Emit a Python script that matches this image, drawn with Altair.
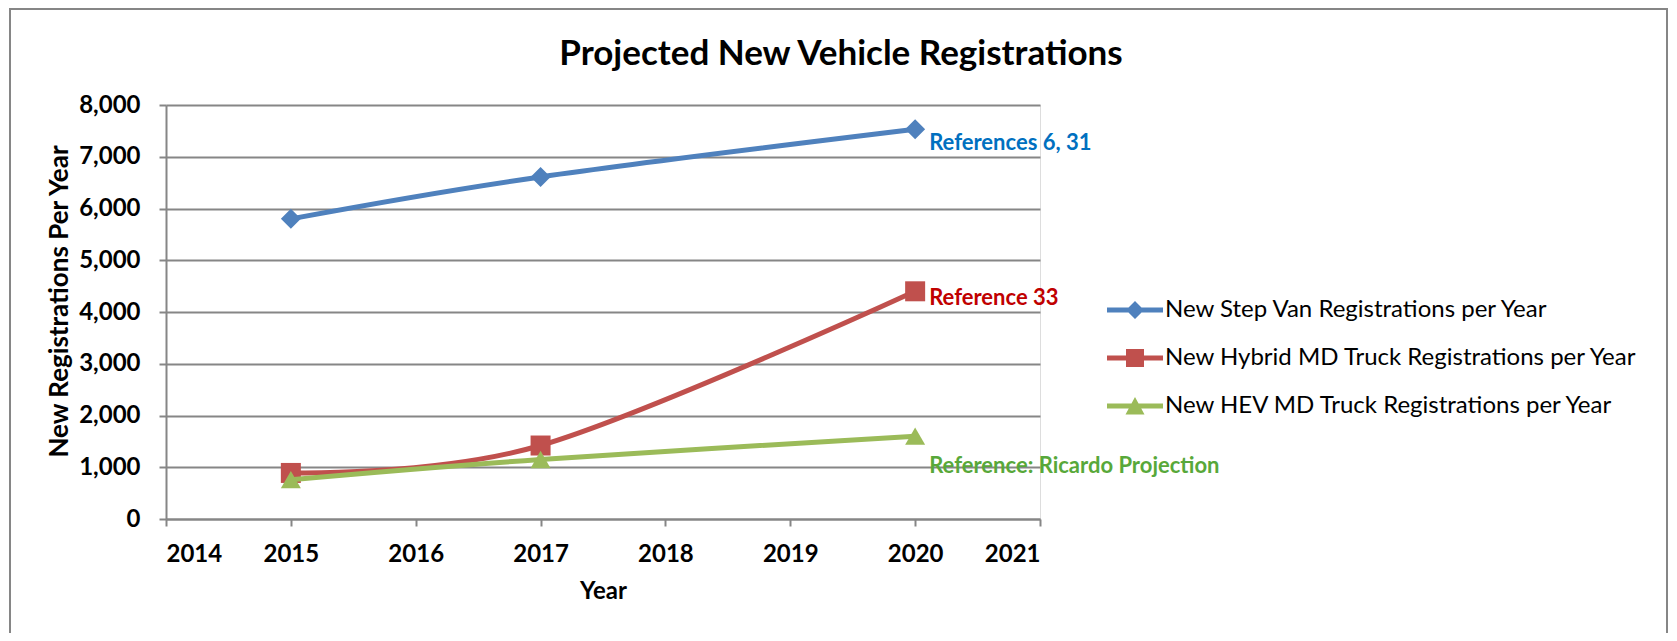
import altair as alt
import pandas as pd

# ---- data ----
years = [2015, 2017, 2020]
series_names = [
    "New Step Van Registrations per Year",
    "New Hybrid MD Truck Registrations per Year",
    "New HEV MD Truck Registrations per Year",
]
step_van = [5800, 6610, 7530]
hybrid_md = [890, 1420, 4400]
hev_md = [760, 1150, 1600]
series_values = [step_van, hybrid_md, hev_md]

x_ticks = [2014, 2015, 2016, 2017, 2018, 2019, 2020, 2021]
y_ticks = [0, 1000, 2000, 3000, 4000, 5000, 6000, 7000, 8000]

ann_text = ["References 6, 31", "Reference 33", "Reference: Ricardo Projection"]
ann_year = [2020, 2020, 2020]
ann_y = [7130, 4130, 880]

# ---- styles ----
line_colors = ["#4F81BD", "#C0504D", "#9BBB59"]
marker_shapes = ["diamond", "square", "triangle-up"]
ann_colors = ["#0070C0", "#C00000", "#58A83A"]
legend_shapes = [
    "M-2.8,-0.25H2.8V0.25H-2.8Z M0,-0.9L0.9,0L0,0.9L-0.9,0Z",
    "M-2.8,-0.25H2.8V0.25H-2.8Z M-0.9,-0.9H0.9V0.9H-0.9Z",
    "M-2.8,-0.25H2.8V0.25H-2.8Z M0,-0.9L0.95,0.85L-0.95,0.85Z",
]
grey = "#868686"
FONT = "Lato"

rows = []
for name, vals in zip(series_names, series_values):
    for yr, v in zip(years, vals):
        rows.append({"series": name, "year": yr, "value": v})
df = pd.DataFrame(rows)

ann_df = pd.DataFrame({"label": ann_text, "year": ann_year, "value": ann_y})

x_enc = alt.X(
    "year:Q",
    scale=alt.Scale(domain=[2014, 2021], nice=False, zero=False),
    axis=alt.Axis(
        values=x_ticks, format="d", title="Year", grid=False,
        labelPadding=16, titlePadding=13, titleFontSize=24,
    ),
)
y_enc = alt.Y(
    "value:Q",
    scale=alt.Scale(domain=[0, 8000], nice=False),
    axis=alt.Axis(
        values=y_ticks, format=",d", title="New Registrations Per Year", grid=True,
        labelPadding=19, titlePadding=6, titleFontSize=26, titleY=196,
    ),
)

layers = []
for name, col, shp in zip(series_names, line_colors, marker_shapes):
    base = alt.Chart(df).transform_filter(alt.datum.series == name)
    layers.append(
        base.mark_line(interpolate="cardinal", strokeWidth=5, color=col).encode(x=x_enc, y=y_enc)
    )
    layers.append(
        base.mark_point(shape=shp, size=400, filled=True, opacity=1, color=col).encode(x=x_enc, y=y_enc)
    )

leg = alt.Legend(
    title=None, orient="none", legendX=957, legendY=193,
    labelFont=FONT, labelFontSize=24, labelColor="black", labelLimit=0,
    symbolSize=400, rowPadding=24, labelOffset=18, padding=0,
    symbolStrokeWidth=0,
)

legend_layer = (
    alt.Chart(df)
    .transform_filter("false")
    .mark_point(filled=True, opacity=1)
    .encode(
        x=x_enc,
        y=y_enc,
        fill=alt.Fill("series:N", scale=alt.Scale(domain=series_names, range=line_colors), legend=leg),
        shape=alt.Shape("series:N", scale=alt.Scale(domain=series_names, range=legend_shapes), legend=leg),
    )
)

ann_layer = (
    alt.Chart(ann_df)
    .mark_text(align="left", baseline="alphabetic", dx=14, font=FONT, fontSize=22, fontWeight="bold")
    .encode(
        x=x_enc,
        y=y_enc,
        text="label:N",
        color=alt.Color("label:N", scale=alt.Scale(domain=ann_text, range=ann_colors), legend=None),
    )
)

frame = (
    alt.Chart(alt.Data(values=[{"f": 1}]))
    .mark_rect(fill="transparent", stroke=grey, strokeWidth=2)
    .encode(x=alt.value(-156), x2=alt.value(1501), y=alt.value(-96), y2=alt.value(700))
)

chart = (
    alt.layer(frame, *layers, legend_layer, ann_layer)
    .properties(
        width=874,
        height=414,
        autosize="none",
        padding={"left": 158, "top": 97, "right": 629, "bottom": 114},
        title=alt.TitleParams(
            "Projected New Vehicle Registrations",
            font=FONT, fontSize=35, fontWeight="bold", color="black",
            anchor="middle", dx=238, dy=84, offset=20,
        ),
    )
    .configure_view(strokeWidth=0)
    .configure(background="white")
    .configure_axis(
        labelFont=FONT, labelFontSize=24, labelFontWeight="bold", labelColor="black",
        titleFont=FONT, titleFontSize=22, titleFontWeight="bold", titleColor="black",
        domainColor=grey, domainWidth=2, tickColor=grey, tickWidth=2, tickSize=7,
        gridColor=grey, gridWidth=2,
    )
)

chart.save("out.html", embed_options={"renderer": "svg", "actions": False})
